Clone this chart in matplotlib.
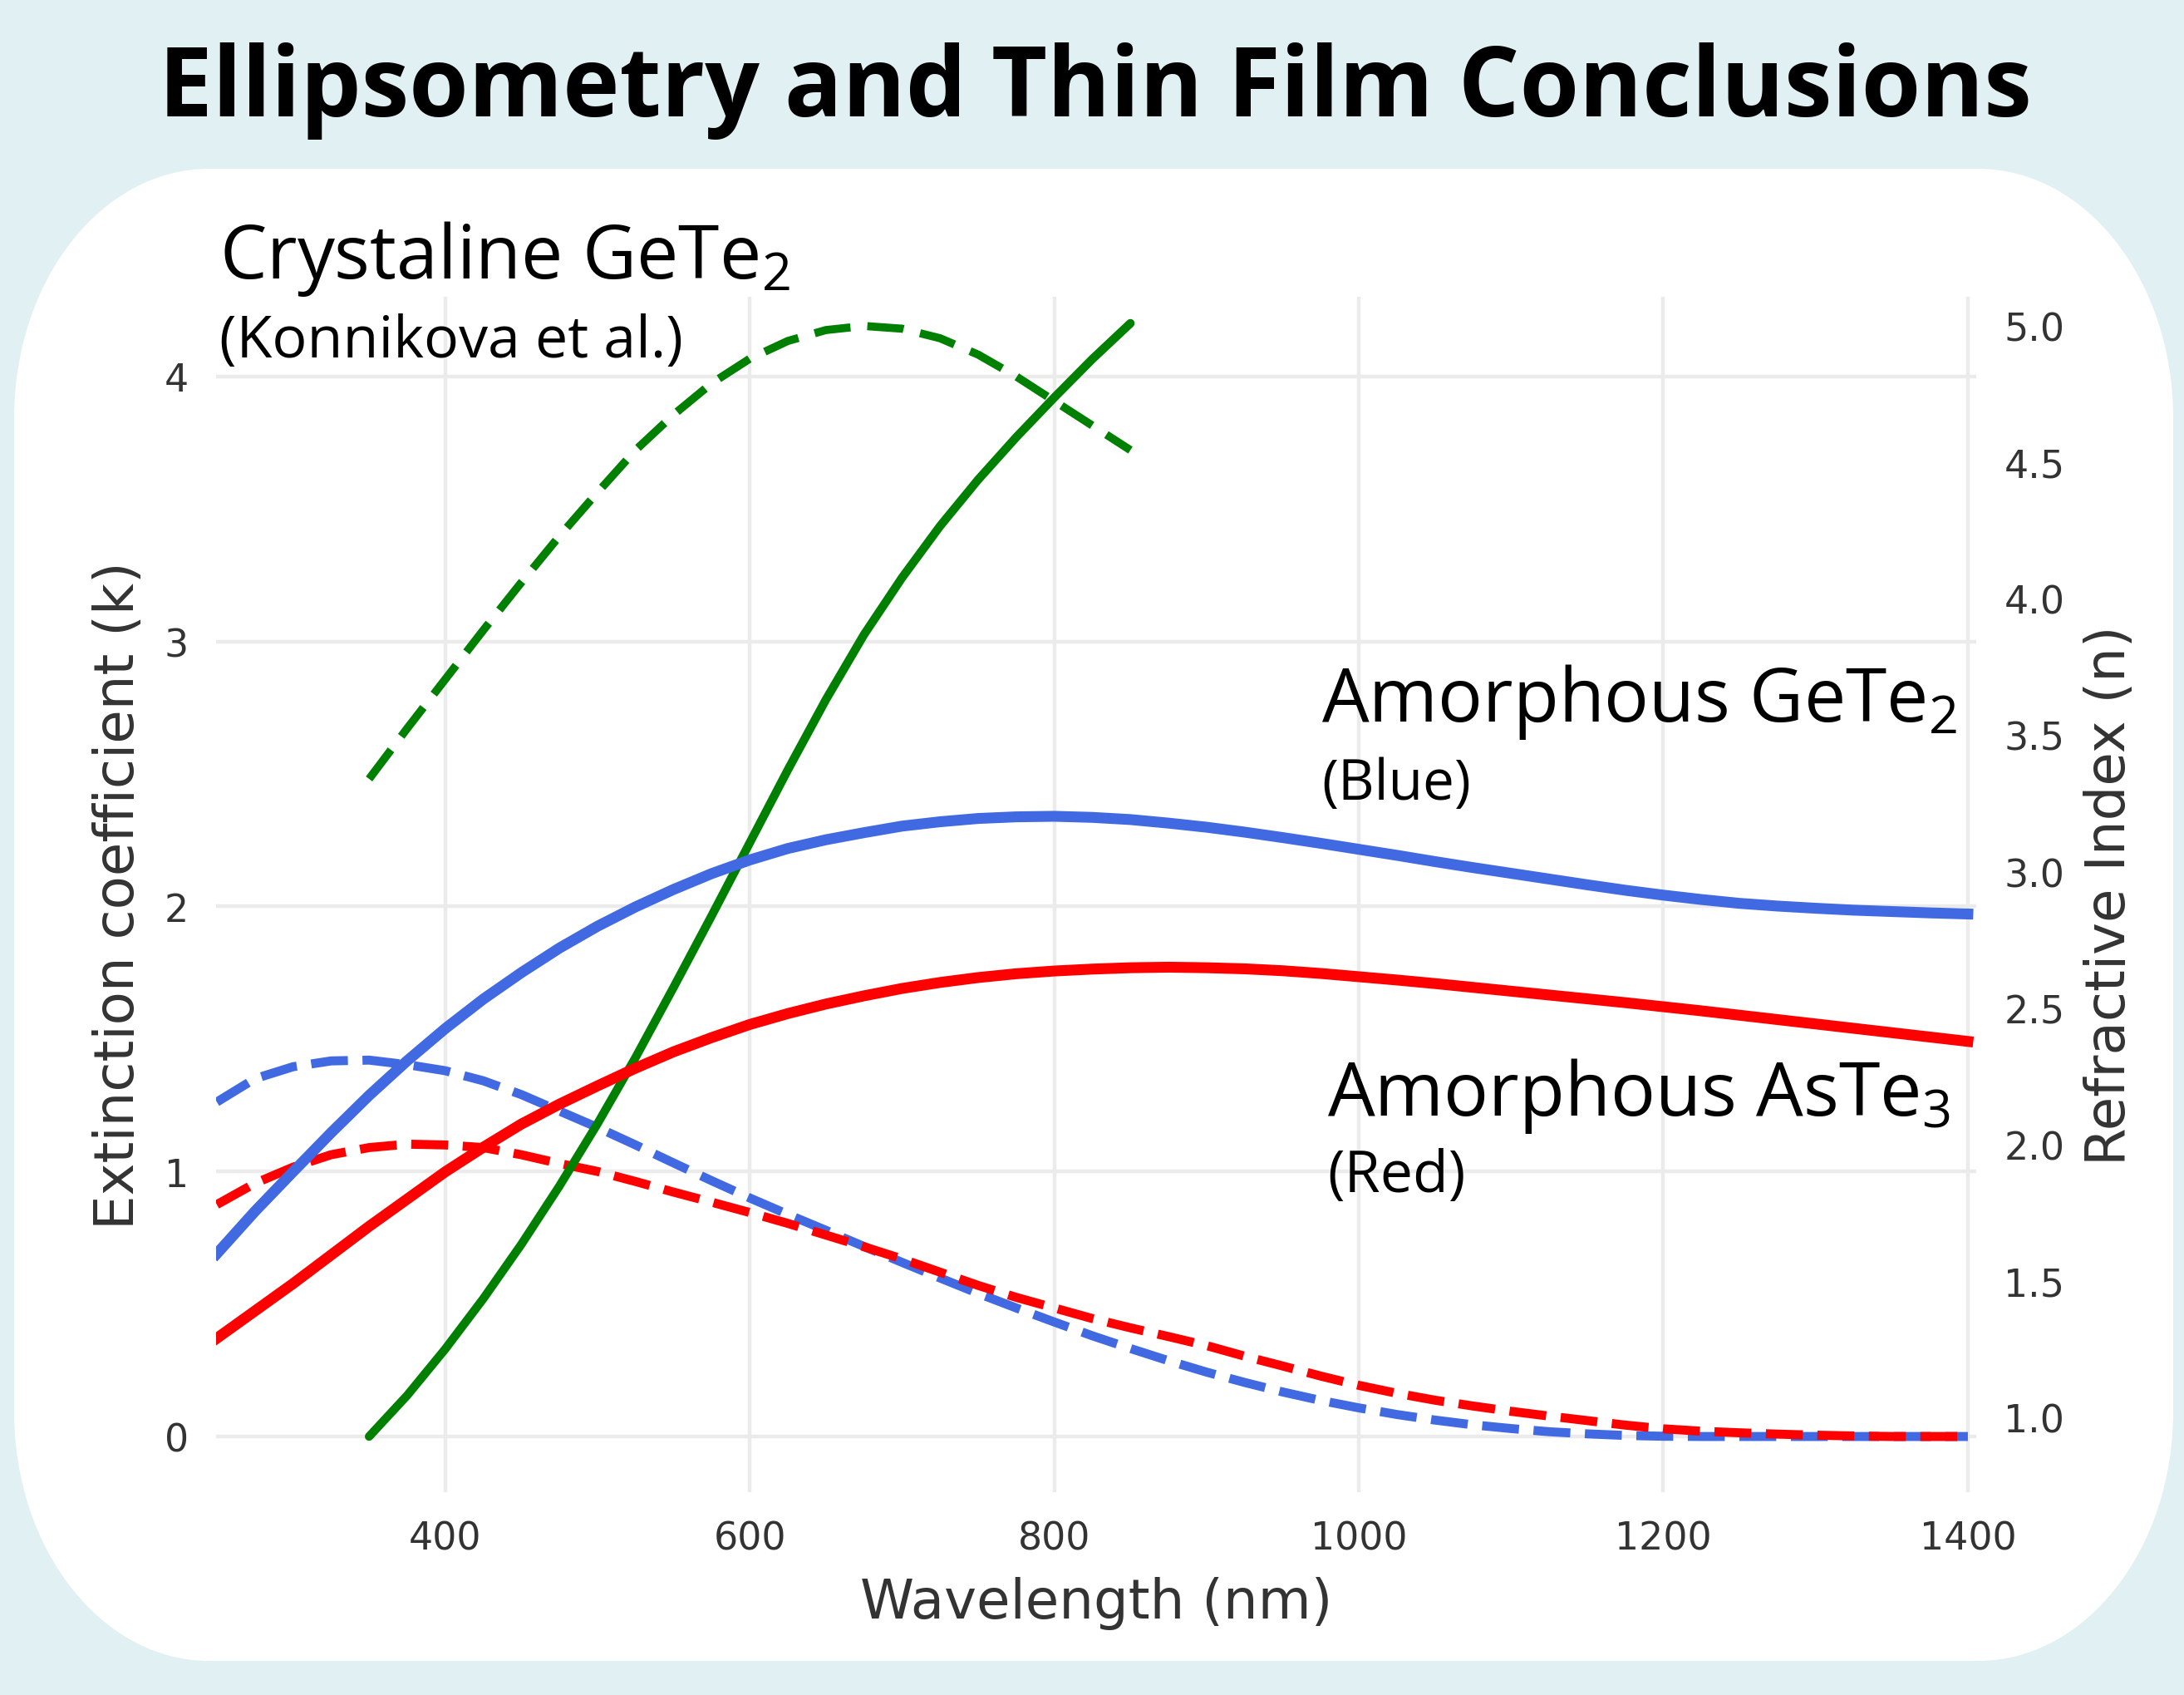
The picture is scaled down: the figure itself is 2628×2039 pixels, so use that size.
import numpy as np
import matplotlib
matplotlib.use('Agg')
import matplotlib.pyplot as plt
from matplotlib.path import Path
from matplotlib.patches import PathPatch

plt.rcParams['mathtext.fontset'] = 'custom'
plt.rcParams['mathtext.rm'] = 'Open Sans'
plt.rcParams['mathtext.it'] = 'Open Sans'

# amorphous films, 250-1400 nm in 25 nm steps
wavelength = list(range(250, 1401, 25))
blue_n = [1.60, 1.755, 1.90, 2.043, 2.18, 2.307, 2.425, 2.533, 2.63, 2.72, 2.80, 2.871,
          2.935, 2.993, 3.043, 3.085, 3.117, 3.143, 3.167, 3.183, 3.195, 3.201, 3.203, 3.199,
          3.191, 3.178, 3.163, 3.145, 3.125, 3.104, 3.082, 3.06, 3.037, 3.015, 2.994, 2.973,
          2.952, 2.932, 2.914, 2.898, 2.884, 2.874, 2.866, 2.859, 2.854, 2.849, 2.845]
red_n = [1.29, 1.39, 1.49, 1.595, 1.70, 1.80, 1.90, 1.99, 2.075, 2.148, 2.215, 2.28,
         2.34, 2.392, 2.44, 2.48, 2.515, 2.545, 2.572, 2.594, 2.612, 2.626, 2.636, 2.643,
         2.648, 2.65, 2.648, 2.644, 2.637, 2.627, 2.615, 2.603, 2.59, 2.576, 2.562, 2.548,
         2.534, 2.52, 2.505, 2.49, 2.474, 2.458, 2.442, 2.426, 2.41, 2.394, 2.378]
blue_k = [1.262, 1.35, 1.395, 1.417, 1.42, 1.403, 1.38, 1.342, 1.29, 1.228, 1.166, 1.10,
          1.032, 0.965, 0.90, 0.838, 0.778, 0.717, 0.657, 0.598, 0.54, 0.485, 0.432, 0.38,
          0.332, 0.286, 0.243, 0.204, 0.168, 0.136, 0.108, 0.083, 0.062, 0.044, 0.03, 0.018,
          0.01, 0.004, 0.001, 0.0, 0.0, 0.0, 0.0, 0.0, 0.0, 0.0, 0.0]
red_k = [0.875, 0.955, 1.016, 1.063, 1.09, 1.103, 1.10, 1.09, 1.063, 1.03, 1.0, 0.962,
         0.922, 0.884, 0.845, 0.804, 0.76, 0.716, 0.67, 0.62, 0.57, 0.525, 0.485, 0.445,
         0.41, 0.377, 0.343, 0.303, 0.266, 0.228, 0.193, 0.163, 0.137, 0.115, 0.095, 0.077,
         0.06, 0.043, 0.029, 0.02, 0.014, 0.009, 0.005, 0.002, 0.0, 0.0, 0.0]

# crystalline GeTe2 (Konnikova et al.), 350-850 nm
green_wavelength = list(range(350, 851, 25))
green_k = [0.0, 0.155, 0.33, 0.52, 0.725, 0.945, 1.18, 1.43, 1.695, 1.965, 2.24,
           2.515, 2.78, 3.025, 3.24, 3.435, 3.61, 3.77, 3.92, 4.065, 4.20]
green_n = [3.34, 3.525, 3.705, 3.885, 4.06, 4.23, 4.39, 4.545, 4.675, 4.79, 4.88,
           4.945, 4.985, 5.0, 4.99, 4.955, 4.895, 4.815, 4.725, 4.635, 4.545]

k_ticks = [0, 1, 2, 3, 4]
n_ticks = [1.0, 1.5, 2.0, 2.5, 3.0, 3.5, 4.0, 4.5, 5.0]
x_ticks = [400, 600, 800, 1000, 1200, 1400]

W, H = 2628, 2040
BG = '#e1f0f3'
TXT = '#333333'

fig = plt.figure(figsize=(W / 200, H / 200), dpi=200)
fig.patch.set_facecolor(BG)

# white rounded panel, drawn in pixel coords
bg = fig.add_axes([0, 0, 1, 1], zorder=-5)
bg.set_xlim(0, W)
bg.set_ylim(H, 0)
bg.axis('off')


def panel(x0, y0, x1, y1, rx, ry):
    c = 0.5523
    verts = [(x0 + rx, y0), (x1 - rx, y0),
             (x1 - rx + c * rx, y0), (x1, y0 + ry - c * ry), (x1, y0 + ry),
             (x1, y1 - ry),
             (x1, y1 - ry + c * ry), (x1 - rx + c * rx, y1), (x1 - rx, y1),
             (x0 + rx, y1),
             (x0 + rx - c * rx, y1), (x0, y1 - ry + c * ry), (x0, y1 - ry),
             (x0, y0 + ry),
             (x0, y0 + ry - c * ry), (x0 + rx - c * rx, y0), (x0 + rx, y0)]
    codes = [Path.MOVETO, Path.LINETO] + [Path.CURVE4] * 3 + [Path.LINETO] + \
        [Path.CURVE4] * 3 + [Path.LINETO] + [Path.CURVE4] * 3 + [Path.LINETO] + \
        [Path.CURVE4] * 3
    return PathPatch(Path(verts, codes), facecolor='white', edgecolor='none')


bg.add_patch(panel(17, 204, 2615, 1999, 235, 300))

ax = fig.add_axes([260 / W, 1 - 1796 / H, (2378 - 260) / W, (1796 - 358) / H])
ax.set_facecolor('none')
ax2 = ax.twinx()

ax.plot(wavelength, blue_k, color='royalblue', lw=3.9, dashes=(4.1, 1.62))
ax.plot(wavelength, red_k, color='red', lw=3.9, dashes=(4.1, 1.62))
ax.plot(green_wavelength, green_k, color='green', lw=3.7, solid_capstyle='round')
ax2.plot(wavelength, blue_n, color='royalblue', lw=4.7)
ax2.plot(wavelength, red_n, color='red', lw=4.7)
ax2.plot(green_wavelength, green_n, color='green', lw=3.5, dashes=(4.5, 2.1))

ax.set_xlim(249.5, 1405.5)
ax.set_ylim(-0.21, 4.30)
ax2.set_ylim(0.726, 5.107)
ax.set_xticks(x_ticks)
ax.set_yticks(k_ticks)
ax2.set_yticks(n_ticks)
ax2.set_yticklabels(['%.1f' % v for v in n_ticks])

ax.grid(True, color='#ebebeb', lw=1.6)
ax.set_axisbelow(True)
ax2.grid(False)
for a in (ax, ax2):
    for s in a.spines.values():
        s.set_visible(False)
    a.tick_params(length=0, pad=12, labelsize=16.5, labelcolor=TXT)

ax.set_xlabel('Wavelength (nm)', fontsize=23.7, color=TXT, labelpad=8)
ax.set_ylabel('Extinction coefficient (k)', fontsize=23.7, color=TXT, labelpad=8)
ax2.set_ylabel('Refractive Index (n)', fontsize=23.7, color=TXT, labelpad=8)

fam = ['Open Sans', 'DejaVu Sans']
renderer = fig.canvas.get_renderer()


def label(x, y, s, size, width, weight='normal', ha='left'):
    t = fig.text(x / W, 1 - y / H, s, fontsize=size, family=fam, fontweight=weight,
                 ha=ha, va='baseline', color='black')
    w = t.get_window_extent(renderer).width
    t.set_fontsize(size * width / w)
    return t


label(1318, 140, 'Ellipsometry and Thin Film Conclusions', 45, 2253, weight='bold', ha='center')
label(264, 335, 'Crystaline GeTe$_2$', 34, 687)
label(264, 430, '(Konnikova et al.)', 23, 557)
label(1590, 868, 'Amorphous GeTe$_2$', 34, 766)
label(1590, 962, '(Blue)', 23, 180)
label(1597, 1342, 'Amorphous AsTe$_3$', 34, 751)
label(1597, 1434, '(Red)', 23, 166)

fig.savefig('out.png', dpi=200, facecolor=BG)
